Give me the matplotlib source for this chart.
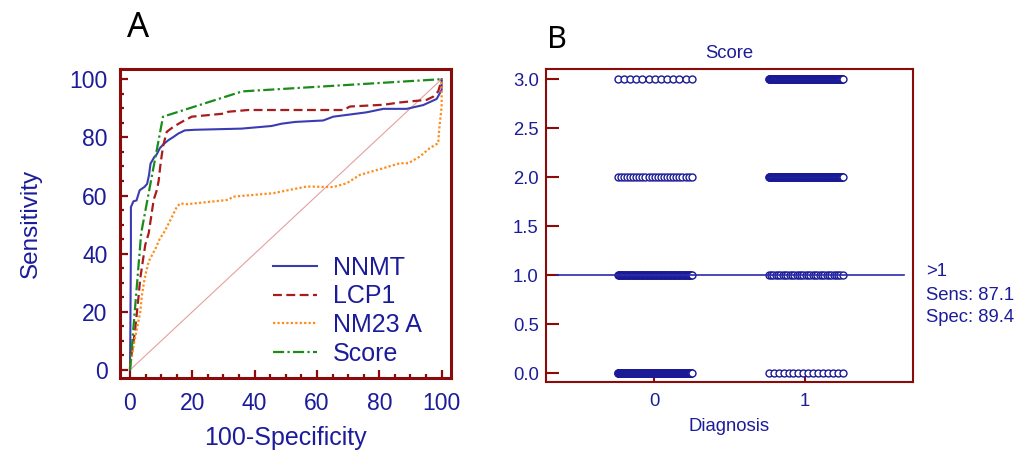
import numpy as np
import matplotlib
matplotlib.use("Agg")
import matplotlib.pyplot as plt
from matplotlib.ticker import MultipleLocator

plt.rcParams['font.family'] = ['Liberation Sans', 'DejaVu Sans']

# ROC curves (100-specificity, sensitivity)
nnmt_fpr = [0, 0.1, 0.3, 0.3, 1.1, 2.1, 3.1, 4.7, 5.5, 6.1, 6.6, 7.8, 8.5, 9.6, 10.7, 12.3,
            13.9, 15.5, 17.6, 20.8, 35.8, 45.4, 48.7, 53, 62, 65.2, 75.9, 81.3, 88.8, 94.1,
            98.4, 100, 100]
nnmt_tpr = [0, 10, 43, 56, 58, 58.3, 61.8, 63, 64, 67, 71, 73.2, 74, 76.3, 77.6, 79,
            80.1, 81.3, 82.4, 82.6, 83, 83.9, 84.7, 85.3, 85.8, 87.1, 88.6, 89.8, 89.8, 91.1,
            93.2, 96.3, 100]

lcp1_fpr = [0, 0.1, 1.0, 1.7, 2.25, 2.8, 3.3, 4.1, 4.9, 6.0, 6.8, 7.6, 8.6, 9.2, 9.7, 10.2,
            10.7, 11.8, 13.9, 16.6, 19.8, 30.5, 31.5, 37.9, 47, 68.5, 70.6, 81.3, 86.6, 95.2,
            97.3, 98.9, 100, 100]
lcp1_tpr = [0, 2.9, 8.6, 14.3, 20, 25.8, 31.5, 37.3, 43, 47, 52.7, 58.5, 61.8, 65, 69.9, 73.9,
            77.3, 81.9, 83.6, 85.3, 87.1, 88.2, 88.8, 89.4, 89.4, 89.4, 90.6, 91.2, 92, 92.9,
            94, 95.8, 99.8, 100]

nm23_fpr = [0, 0.3, 1.2, 2.25, 3.3, 3.85, 4.7, 6.0, 8.3, 9.5, 11.3, 13.5, 15, 16.1, 18.2,
            31.5, 33.1, 46, 56.7, 65.2, 69.5, 73.8, 81.3, 86.6, 89.3, 93, 96.2, 98.9, 99.2,
            100, 100, 100]
nm23_tpr = [0, 2.9, 8.6, 14.3, 20, 25.8, 31.5, 37.3, 42, 45, 48, 52.7, 56, 57.3, 57,
            58.5, 59.6, 60.8, 63.1, 62.9, 64.2, 67.1, 69.4, 71.1, 71.1, 73.4, 76.3, 78, 82.6,
            90.6, 98.6, 100]

score_fpr = [0, 3.6, 10.6, 36.0, 100]
score_tpr = [0, 47.1, 87.1, 95.8, 100]

# panel B: number of cases per score level, for diagnosis 0 and 1
score_levels = [0, 1, 2, 3]
counts_diag0 = [229, 91, 25, 13]
counts_diag1 = [16, 33, 152, 179]

navy = '#1c1c9a'
spine_red = '#8b0a0a'

fig = plt.figure(figsize=(10.17, 4.5), dpi=100)

# ---------------- panel A ----------------
ax1 = fig.add_axes([120/1017, 72/450, 331/1017, 309/450])
ax1.plot([0, 100], [0, 100], color='#e4a0a0', lw=0.8)
ax1.plot(nnmt_fpr, nnmt_tpr, color='#3b3bb3', lw=1.5, label='NNMT')
ax1.plot(lcp1_fpr, lcp1_tpr, color='#a81c1c', lw=1.6, ls=(0, (4, 2)), label='LCP1')
ax1.plot(nm23_fpr, nm23_tpr, color='#ff8c1a', lw=1.6, ls=(0, (1, 1)), label='NM23 A')
ax1.plot(score_fpr, score_tpr, color='#1a8c1a', lw=1.6, ls=(0, (5, 1.5, 1, 1.5)), label='Score')
ax1.set_xlim(-3.2, 103)
ax1.set_ylim(-2.75, 103.5)
ax1.xaxis.set_major_locator(MultipleLocator(20))
ax1.xaxis.set_minor_locator(MultipleLocator(5))
ax1.yaxis.set_major_locator(MultipleLocator(20))
ax1.yaxis.set_minor_locator(MultipleLocator(5))
ax1.tick_params(which='both', direction='in', color=spine_red, width=1.6,
                labelcolor=navy, labelsize=16.5)
ax1.tick_params(which='major', length=6)
ax1.tick_params(which='minor', length=3)
ax1.tick_params(axis='x', pad=10)
ax1.tick_params(axis='y', pad=9)
for s in ax1.spines.values():
    s.set_color(spine_red)
    s.set_linewidth(2.2)
ax1.set_ylabel('Sensitivity', color=navy, fontsize=17.5, labelpad=20)
ax1.set_xlabel('100-Specificity', color=navy, fontsize=18, labelpad=8)
leg = ax1.legend(loc='upper left', bbox_to_anchor=(153/331, 0.396), frameon=False,
                 fontsize=18, handlelength=1.75, handletextpad=0.65, labelspacing=0.19,
                 borderpad=0, borderaxespad=0)
for t in leg.get_texts():
    t.set_color(navy)

# ---------------- panel B ----------------
ax2 = fig.add_axes([545.7/1017, 68/450, 367.3/1017, 313/450])
for grp, counts in [(0, counts_diag0), (1, counts_diag1)]:
    for lvl, n in zip(score_levels, counts):
        xs = grp + np.linspace(-0.24, 0.25, n)
        ax2.plot(xs, np.full(n, lvl), 'o', ms=5, mfc='white', mec='#1a1a96', mew=1.0,
                 ls='none', zorder=3)
ax2.plot([-0.64, 1.655], [1, 1], color='#2a2aaa', lw=1.2, zorder=4)
ax2.set_xlim(-0.717, 1.715)
ax2.set_ylim(-0.089, 3.105)
ax2.set_xticks([0, 1])
ax2.yaxis.set_major_locator(MultipleLocator(0.5))
ax2.yaxis.set_major_formatter(matplotlib.ticker.FormatStrFormatter('%.1f'))
ax2.tick_params(axis='y', direction='in', length=9, width=1.5, color=spine_red,
                labelcolor=navy, labelsize=13.3, pad=5)
ax2.tick_params(axis='x', direction='in', length=5, width=1.5, color=spine_red,
                labelcolor=navy, labelsize=13.3, pad=8)
for s in ax2.spines.values():
    s.set_color(spine_red)
    s.set_linewidth(1.5)
ax2.set_title('Score', color=navy, fontsize=13.3, pad=8)
ax2.set_xlabel('Diagnosis', color=navy, fontsize=13.3, labelpad=6)

fig.text(926/1017, 1 - 272/450, '>1', color=navy, fontsize=13.3, va='center')
fig.text(926/1017, 1 - 295/450, 'Sens: 87.1', color=navy, fontsize=13.3, va='center')
fig.text(926/1017, 1 - 318/450, 'Spec: 89.4', color=navy, fontsize=13.3, va='center')

fig.text(127/1017, 1 - 37/450, 'A', fontsize=25, family='Noto Sans', va='baseline')
fig.text(547/1017, 1 - 48/450, 'B', fontsize=22, family='Noto Sans', va='baseline')

fig.savefig('out.png', dpi=100)
